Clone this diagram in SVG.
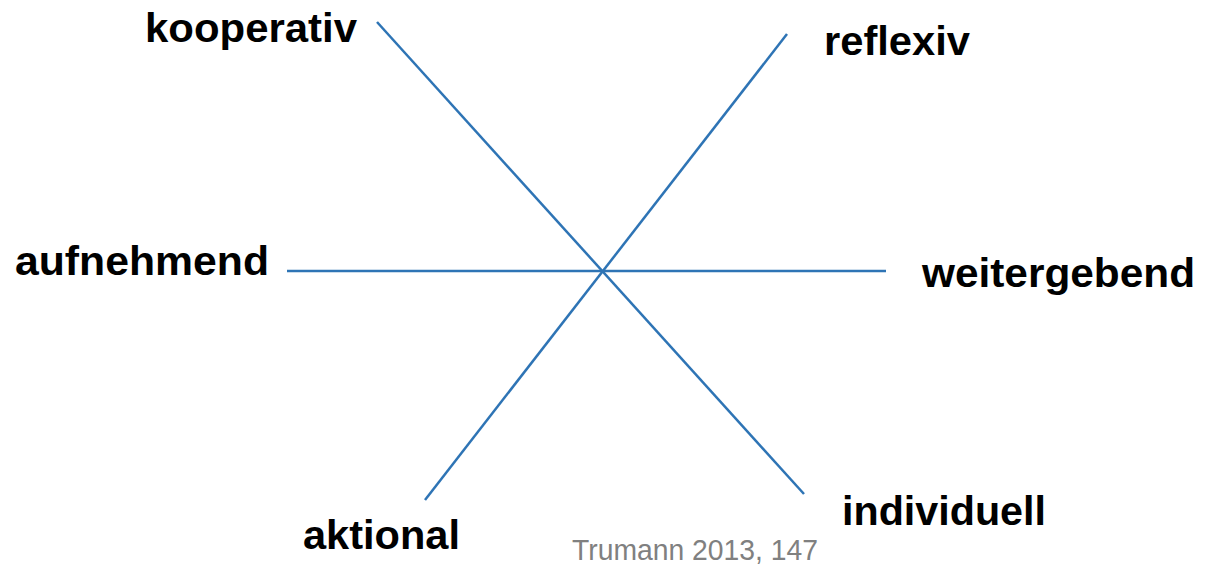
<svg xmlns="http://www.w3.org/2000/svg" width="1208" height="567" viewBox="0 0 1208 567">
<style>
.l{stroke:#2E74B5;stroke-width:2.5;fill:none}
.t{font-family:"Liberation Sans",Arial,sans-serif;font-weight:bold;font-size:41px;fill:#000}
.c{font-family:"Liberation Sans",Arial,sans-serif;font-size:29px;fill:#808080}
</style>
<rect width="1208" height="567" fill="#fff"/>
<g id="connectors">
<line class="l" x1="377" y1="22" x2="804" y2="494"/>
<line class="l" x1="787" y1="34" x2="425" y2="500"/>
<line class="l" x1="287" y1="271" x2="886" y2="271"/>
</g>
<g id="kooperativ"><text class="t" x="145" y="42" textLength="212" lengthAdjust="spacingAndGlyphs">kooperativ</text></g>
<g id="reflexiv"><text class="t" x="824" y="55" textLength="146" lengthAdjust="spacingAndGlyphs">reflexiv</text></g>
<g id="aufnehmend"><text class="t" x="15" y="275" textLength="254" lengthAdjust="spacingAndGlyphs">aufnehmend</text></g>
<g id="weitergebend"><text class="t" x="922" y="287" textLength="273" lengthAdjust="spacingAndGlyphs">weitergebend</text></g>
<g id="aktional"><text class="t" x="303" y="549" textLength="157" lengthAdjust="spacingAndGlyphs">aktional</text></g>
<g id="individuell"><text class="t" x="842" y="525" textLength="204" lengthAdjust="spacingAndGlyphs">individuell</text></g>
<g id="citation"><text class="c" x="572" y="560" textLength="246" lengthAdjust="spacingAndGlyphs">Trumann 2013, 147</text></g>
</svg>
